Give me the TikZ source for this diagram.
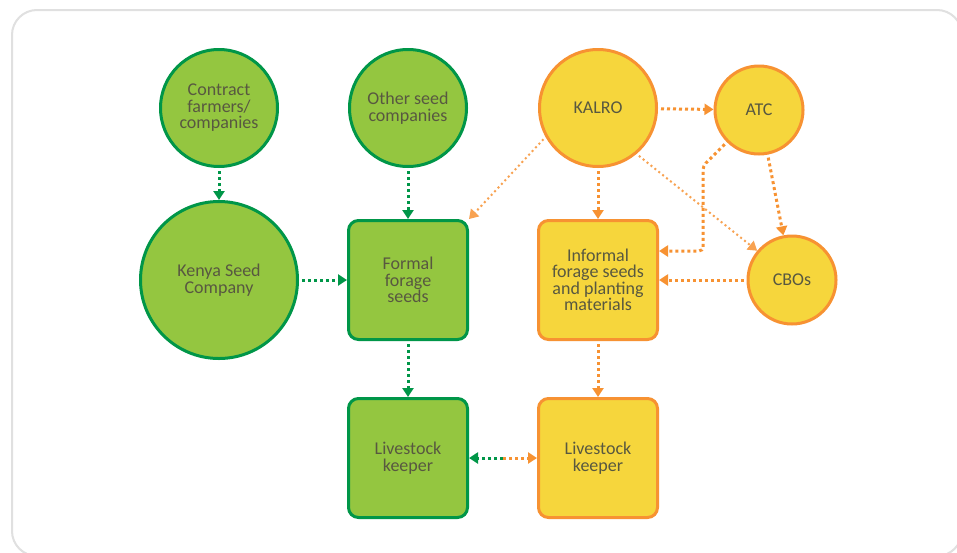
\documentclass[tikz,border=0pt]{standalone}
\usepackage{fontspec}
\setmainfont{Carlito}
\usetikzlibrary{arrows.meta}
\definecolor{leafgreen}{RGB}{148,198,64}
\definecolor{darkgreen}{RGB}{0,150,72}
\definecolor{sunyellow}{RGB}{246,214,60}
\definecolor{flameorange}{RGB}{247,146,50}
\definecolor{inkgray}{RGB}{88,88,64}
\definecolor{framegray}{RGB}{224,224,224}

\begin{document}
\begin{tikzpicture}[x=1pt, y=-1pt,
  label text/.style={text=inkgray, align=center, font=\fontsize{18}{16.5}\selectfont},
  greencircle/.style={circle, fill=leafgreen, draw=darkgreen, line width=3pt, label text},
  greenbox/.style={rectangle, rounded corners=10pt, minimum size=119pt, fill=leafgreen, draw=darkgreen, line width=3pt, label text},
  yellowcircle/.style={circle, fill=sunyellow, draw=flameorange, line width=3pt, label text},
  yellowbox/.style={rectangle, rounded corners=10pt, minimum size=119pt, fill=sunyellow, draw=flameorange, line width=3pt, label text},
  greenflow/.style={darkgreen, line width=3pt, dash pattern=on 3pt off 3pt, shorten <=3pt,
    -{Triangle[length=9pt,width=11pt]}},
  orangeflow/.style={flameorange, line width=3pt, dash pattern=on 3pt off 3pt, shorten <=3pt,
    -{Triangle[length=9pt,width=11pt]}},
  faintflow/.style={flameorange!85, line width=2pt, dash pattern=on 2pt off 3pt, shorten <=3pt,
    -{Triangle[length=9pt,width=11pt]}}]

\useasboundingbox (0,0) rectangle (957,552);
\fill[white] (0,0) rectangle (957,552);

% 1. FRAME
\draw[framegray, line width=2pt, rounded corners=25pt] (12,10) rectangle (962,556);

% 2. FORMAL SIDE (green)
\node[greencircle, minimum size=117pt] (contract) at (219,108) {Contract\\farmers/\\companies};
\node[greencircle, minimum size=117pt] (otherseed) at (408,108) {Other seed\\companies};
\node[greencircle, minimum size=157pt] (kenyaseed) at (219,280) {Kenya Seed\\Company};
\node[greenbox] (formal) at (408,280) {Formal\\forage\\seeds};
\node[greenbox] (keepgreen) at (408,458) {Livestock\\keeper};

% 3. INFORMAL SIDE (yellow)
\node[yellowcircle, minimum size=117pt] (kalro) at (598,108) {KALRO};
\node[yellowcircle, minimum size=88pt] (atc) at (759,110) {ATC};
\node[yellowcircle, minimum size=88pt] (cbos) at (792,280) {CBOs};
\node[yellowbox] (informal) at (598,280) {Informal\\forage seeds\\and planting\\materials};
\node[yellowbox] (keepyellow) at (598,458) {Livestock\\keeper};

% 4. GREEN FLOWS
\draw[greenflow] (contract) -- (kenyaseed);
\draw[greenflow] (otherseed) -- (formal);
\draw[greenflow] (kenyaseed) -- (formal);
\draw[greenflow] (formal) -- (keepgreen);

% 5. ORANGE FLOWS
\draw[orangeflow] (kalro) -- (atc);
\draw[orangeflow] (kalro) -- (informal);
\draw[orangeflow] (atc) -- (cbos);
\draw[orangeflow] (cbos) -- (informal);
\draw[orangeflow] (informal) -- (keepyellow);
\coordinate (atcbend) at (703,166);
\coordinate (atcfoot) at (703,251);
\draw[orangeflow, rounded corners=4pt] (atc.225) -- (atcbend) -- (atcfoot) -- (atcfoot -| informal.east);
\draw[faintflow] (kalro.209) -- (formal.north east);
\draw[faintflow] (kalro.310) -- (cbos.140);

% 6. KEEPER EXCHANGE
\coordinate (swap) at (503,458);
\draw[greenflow, shorten <=0pt] (swap) -- (keepgreen);
\draw[orangeflow, shorten <=0pt] (swap) -- (keepyellow);

\end{tikzpicture}
\end{document}
